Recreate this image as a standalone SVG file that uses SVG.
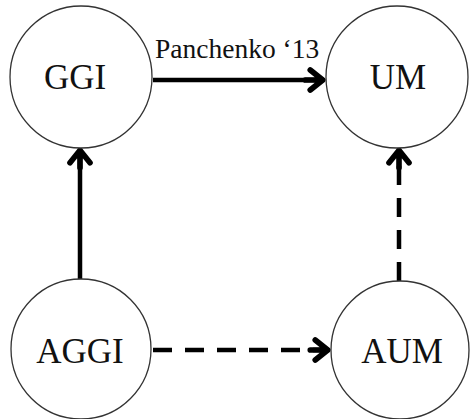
<svg xmlns="http://www.w3.org/2000/svg" width="470" height="419" viewBox="0 0 470 419">
  <defs>
    <style>
      .node circle { fill: #ffffff; stroke: #333333; stroke-width: 1.3; }
      .node text { font-family: "Liberation Serif", "Times New Roman", serif; font-size: 35px; fill: #111111; text-anchor: middle; }
      .edge { fill: none; stroke: #000000; stroke-width: 4.5; }
      .dashed { stroke-dasharray: 19 13; }
      .label { font-family: "Liberation Serif", "Times New Roman", serif; font-size: 27.5px; fill: #111111; }
    </style>
    <marker id="arrow" markerUnits="userSpaceOnUse" markerWidth="30" markerHeight="30" refX="1" refY="0" viewBox="-20 -12 24 24" orient="auto">
      <path d="M-14,0 L0,0 M-10,-8 L0,0 L-10,8" fill="none" stroke="#000" stroke-width="4.5" stroke-linecap="round" stroke-linejoin="round"/>
    </marker>
  </defs>
  <rect width="470" height="419" fill="#ffffff"/>

  <g id="connectors">
    <path class="edge" d="M153,80 L324,80" marker-end="url(#arrow)"/>
    <path class="edge" d="M80,281 L80,149" marker-end="url(#arrow)"/>
    <path class="edge dashed" d="M153,350 L329,350" marker-end="url(#arrow)"/>
    <path class="edge dashed" d="M399,281 L399,149" marker-end="url(#arrow)"/>
    <text class="label" x="155" y="58">Panchenko ‘13</text>
  </g>

  <g id="GGI" class="node">
    <circle cx="81" cy="77" r="71"/>
    <text x="75" y="89">GGI</text>
  </g>
  <g id="UM" class="node">
    <circle cx="397" cy="77" r="71"/>
    <text x="398" y="89">UM</text>
  </g>
  <g id="AGGI" class="node">
    <circle cx="81" cy="349" r="70"/>
    <text x="80" y="363">AGGI</text>
  </g>
  <g id="AUM" class="node">
    <circle cx="400" cy="350" r="69"/>
    <text x="402" y="363">AUM</text>
  </g>
</svg>
